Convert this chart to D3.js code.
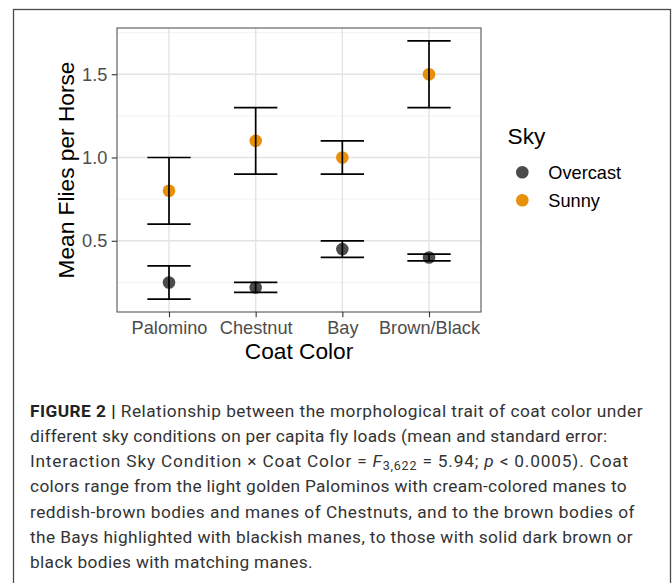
<!DOCTYPE html>
<html>
<head>
<meta charset="utf-8">
<script src="https://cdn.jsdelivr.net/npm/d3@7"></script>
<style>
  html, body { margin: 0; padding: 0; background: #fff; }
  svg { display: block; }
</style>
</head>
<body>
<svg id="chart" width="672" height="583"></svg>
<script>
// ---- data ----
const categories = ["Palomino", "Chestnut", "Bay", "Brown/Black"];
const skyLevels = ["Overcast", "Sunny"];
const overcastMean = [0.25, 0.22, 0.45, 0.40];
const overcastLow  = [0.15, 0.19, 0.40, 0.38];
const overcastHigh = [0.35, 0.25, 0.50, 0.42];
const sunnyMean = [0.80, 1.10, 1.00, 1.50];
const sunnyLow  = [0.60, 0.90, 0.90, 1.30];
const sunnyHigh = [1.00, 1.30, 1.10, 1.70];
const yTicks = [0.5, 1.0, 1.5];
const yMinor = [0.25, 0.75, 1.25, 1.75];
const xTitle = "Coat Color";
const yTitle = "Mean Flies per Horse";
const legendTitle = "Sky";

const colors = { Overcast: "#4b4b4b", Sunny: "#E8900A" };

const rows = [];
categories.forEach((c, i) => {
  rows.push({ cat: c, i, sky: "Overcast", mean: overcastMean[i], lo: overcastLow[i], hi: overcastHigh[i] });
  rows.push({ cat: c, i, sky: "Sunny", mean: sunnyMean[i], lo: sunnyLow[i], hi: sunnyHigh[i] });
});

const svg = d3.select("#chart");
svg.append("rect").attr("width", 672).attr("height", 583).attr("fill", "#fff");

// outer figure border
svg.append("rect")
  .attr("x", 13.5).attr("y", 9.5).attr("width", 657).attr("height", 600)
  .attr("fill", "none").attr("stroke", "#4a4a4a").attr("stroke-width", 1.3);

const P = { left: 117, right: 481, top: 28, bottom: 312 };

const allVals = rows.flatMap(r => [r.lo, r.hi]);
const lo = d3.min(allVals), hi = d3.max(allVals), pad = (hi - lo) * 0.05;
const y = d3.scaleLinear().domain([lo - pad, hi + pad]).range([P.bottom, P.top]);
const x = d3.scaleLinear().domain([-0.6, categories.length - 1 + 0.6]).range([P.left, P.right]);
const step = x(1) - x(0);

const g = svg.append("g");

// minor grid
g.selectAll(".ymin").data(yMinor.filter(v => v > y.domain()[0] && v < y.domain()[1])).join("line")
  .attr("x1", P.left).attr("x2", P.right)
  .attr("y1", d => y(d)).attr("y2", d => y(d))
  .attr("stroke", "#f0f0f0").attr("stroke-width", 0.9);
// major grid
g.selectAll(".ymaj").data(yTicks).join("line")
  .attr("x1", P.left).attr("x2", P.right)
  .attr("y1", d => y(d)).attr("y2", d => y(d))
  .attr("stroke", "#e3e3e3").attr("stroke-width", 1.4);
g.selectAll(".xmaj").data(categories).join("line")
  .attr("x1", (d, i) => x(i)).attr("x2", (d, i) => x(i))
  .attr("y1", P.top).attr("y2", P.bottom)
  .attr("stroke", "#e3e3e3").attr("stroke-width", 1.4);

// points (drawn first, error bars on top)
g.selectAll(".pt").data(rows).join("circle")
  .attr("cx", d => x(d.i)).attr("cy", d => y(d.mean)).attr("r", 6.3)
  .attr("fill", d => colors[d.sky]);

// error bars
const half = step * 0.25;
const eb = g.selectAll(".eb").data(rows).join("g").attr("stroke", "#000").attr("stroke-width", 1.7);
eb.append("line").attr("x1", d => x(d.i)).attr("x2", d => x(d.i)).attr("y1", d => y(d.lo)).attr("y2", d => y(d.hi));
eb.append("line").attr("x1", d => x(d.i) - half).attr("x2", d => x(d.i) + half).attr("y1", d => y(d.lo)).attr("y2", d => y(d.lo));
eb.append("line").attr("x1", d => x(d.i) - half).attr("x2", d => x(d.i) + half).attr("y1", d => y(d.hi)).attr("y2", d => y(d.hi));

// panel border
svg.append("rect")
  .attr("x", P.left).attr("y", P.top).attr("width", P.right - P.left).attr("height", P.bottom - P.top)
  .attr("fill", "none").attr("stroke", "#555").attr("stroke-width", 1.1);

const font = "'Liberation Sans', Arial, Helvetica, sans-serif";
const baseSize = 22.7, smallSize = 18.2;

// y axis
const yAxis = svg.append("g").attr("transform", `translate(${P.left},0)`)
  .call(d3.axisLeft(y).tickValues(yTicks).tickFormat(d3.format(".1f")).tickSize(5.3).tickPadding(4.4));
yAxis.select(".domain").remove();
yAxis.selectAll("line").attr("stroke", "#333").attr("stroke-width", 1.1);
yAxis.selectAll("text").attr("font-family", font).attr("font-size", smallSize).attr("fill", "#4d4d4d");

// x axis
const xAxis = svg.append("g").attr("transform", `translate(0,${P.bottom})`)
  .call(d3.axisBottom(x).tickValues(d3.range(categories.length)).tickFormat(i => categories[i]).tickSize(5.3).tickPadding(4));
xAxis.select(".domain").remove();
xAxis.selectAll("line").attr("stroke", "#333").attr("stroke-width", 1.1);
xAxis.selectAll("text").attr("font-family", font).attr("font-size", smallSize).attr("fill", "#4d4d4d")
  .attr("dy", null).attr("y", 21.5);

// axis titles
svg.append("text").attr("x", (P.left + P.right) / 2).attr("y", 358.5)
  .attr("text-anchor", "middle").attr("font-family", font).attr("font-size", baseSize).attr("fill", "#000")
  .text(xTitle);
svg.append("text").attr("transform", `translate(74,${(P.top + P.bottom) / 2}) rotate(-90)`)
  .attr("text-anchor", "middle").attr("font-family", font).attr("font-size", baseSize).attr("fill", "#000")
  .text(yTitle);

// legend
const lg = svg.append("g");
lg.append("text").attr("x", 507.5).attr("y", 143.5).attr("font-family", font).attr("font-size", baseSize).attr("fill", "#000").text(legendTitle);
skyLevels.forEach((s, k) => {
  const cy = 172.3 + k * 28;
  lg.append("circle").attr("cx", 522.3).attr("cy", cy).attr("r", 6.3).attr("fill", colors[s]);
  lg.append("text").attr("x", 548.3).attr("y", cy).attr("dy", "0.36em").attr("font-family", font)
    .attr("font-size", smallSize).attr("fill", "#000").text(s);
});

// caption
const capFont = "Roboto, 'Liberation Sans', Arial, sans-serif";
const capLines = [
  [{ t: "FIGURE 2 | ", b: true }, { t: "Relationship between the morphological trait of coat color under" }],
  [{ t: "different sky conditions on per capita fly loads (mean and standard error:" }],
  [{ t: "Interaction Sky Condition \u00d7 Coat Color = " }, { t: "F", i: true }, { t: "3,622", sub: true }, { t: " = 5.94; " }, { t: "p", i: true }, { t: " < 0.0005). Coat" }],
  [{ t: "colors range from the light golden Palominos with cream-colored manes to" }],
  [{ t: "reddish-brown bodies and manes of Chestnuts, and to the brown bodies of" }],
  [{ t: "the Bays highlighted with blackish manes, to those with solid dark brown or" }],
  [{ t: "black bodies with matching manes." }]
];
const capTargets = [613, 577, 599, 597, 605, 603, 283];
capLines.forEach((parts, li) => {
  const tx = svg.append("text").attr("x", 30).attr("y", 416.5 + li * 25.3)
    .attr("font-family", capFont).attr("font-size", 17.3).attr("fill", "#333");
  parts.forEach((p, k) => {
    const ts = tx.append("tspan").text(p.t);
    if (p.b) ts.attr("font-weight", "bold").attr("fill", "#222");
    if (p.i) ts.attr("font-style", "italic");
    if (p.sub) ts.attr("font-size", 12.5).attr("dy", 3);
    if (k > 0 && parts[k - 1].sub) ts.attr("dy", -3);
  });
  const natural = tx.node().getComputedTextLength();
  const n = parts.reduce((s, p) => s + p.t.length, 0);
  tx.attr("letter-spacing", ((capTargets[li] - natural) / n).toFixed(3) + "px");
});
</script>
</body>
</html>
